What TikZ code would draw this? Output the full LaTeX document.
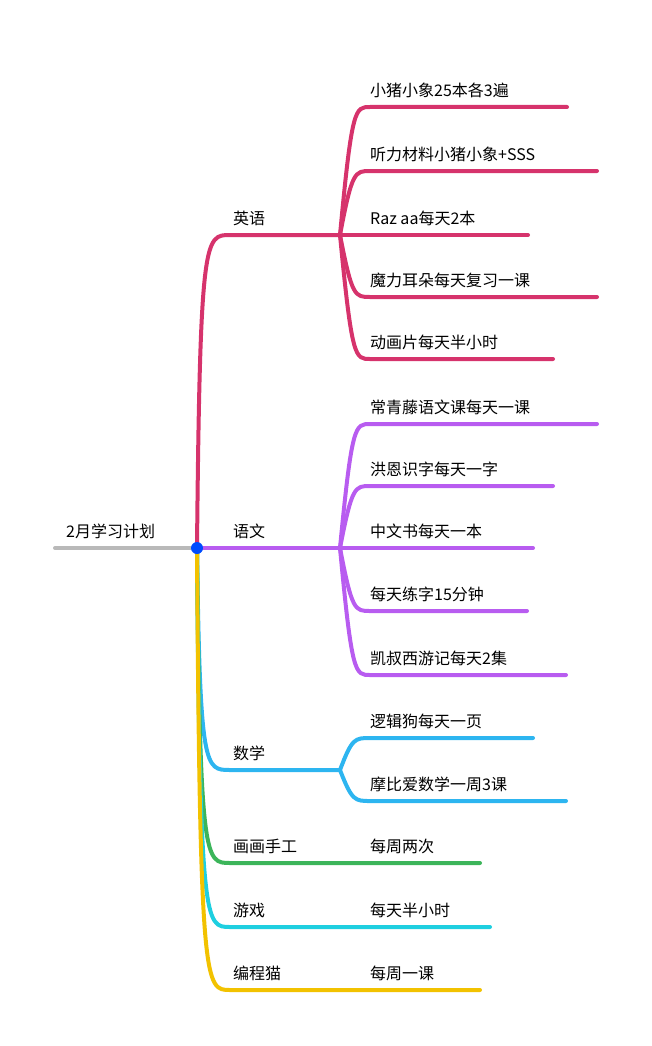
\documentclass[tikz,border=0pt]{standalone}
\usepackage{fontspec}
\setmainfont{Noto Sans CJK SC}
\definecolor{cEng}{RGB}{214,51,108}
\definecolor{cChi}{RGB}{184,92,240}
\definecolor{cMath}{RGB}{45,181,240}
\definecolor{cArt}{RGB}{60,181,90}
\definecolor{cGame}{RGB}{30,207,224}
\definecolor{cCode}{RGB}{242,194,0}
\begin{document}
\begin{tikzpicture}[x=1pt,y=-1pt,line cap=round]
  \tikzstyle{branch} = [line width=4pt]
  \tikzstyle{label}  = [anchor=south west,inner sep=0pt,yshift=9pt,text=black,font=\fontsize{16}{16}\selectfont]
  \useasboundingbox (0,0) rectangle (651,1046);
  % root
  \coordinate (rootL) at (55,548);
  \coordinate (root) at (197,548);
  \draw[branch,gray!55] (rootL) -- (root);
  \path (66,548) node[label] {2月学习计划};
  % main branches: name/y/end/color/text
  \foreach \nm/\y/\e/\c/\t in {eng/235/340/cEng/英语, chi/548/340/cChi/语文,
      math/770/340/cMath/数学, art/863/480/cArt/画画手工,
      game/927/490/cGame/游戏, code/990/480/cCode/编程猫}{
    \coordinate (\nm) at (230,\y);
    \coordinate (\nm E) at (\e,\y);
    \draw[branch,\c] (root) .. controls (200,\y) and (205,\y) .. (\nm) -- (\nm E);
    \path (233,\y) node[label] {\t};
  }
  \draw[branch,cChi] (root) -- (chiE);
  % leaves of eng
  \foreach \i/\y/\e/\t in {1/107/567/小猪小象25本各3遍, 2/171/597/听力材料小猪小象+SSS,
      3/235/528/Raz aa每天2本, 4/297/597/魔力耳朵每天复习一课, 5/359/553/动画片每天半小时}{
    \coordinate (eng\i) at (370,\y);
    \draw[branch,cEng] (engE) .. controls (352,\y) and (355,\y) .. (eng\i) -- (\e,\y);
    \path (eng\i) node[label] {\t};
  }
  % leaves of chi
  \foreach \i/\y/\e/\t in {1/424/597/常青藤语文课每天一课, 2/486/553/洪恩识字每天一字,
      3/548/533/中文书每天一本, 4/611/527/每天练字15分钟, 5/675/566/凯叔西游记每天2集}{
    \coordinate (chi\i) at (370,\y);
    \draw[branch,cChi] (chiE) .. controls (352,\y) and (355,\y) .. (chi\i) -- (\e,\y);
    \path (chi\i) node[label] {\t};
  }
  % leaves of math
  \foreach \i/\y/\e/\t in {1/738/533/逻辑狗每天一页, 2/801/566/摩比爱数学一周3课}{
    \coordinate (math\i) at (370,\y);
    \draw[branch,cMath] (mathE) .. controls (352,\y) and (355,\y) .. (math\i) -- (\e,\y);
    \path (math\i) node[label] {\t};
  }
  % single leaves
  \path (370,863) node[label] {每周两次};
  \path (370,927) node[label] {每天半小时};
  \path (370,990) node[label] {每周一课};
  \fill[blue!70!cyan] (root) circle (6pt);
\end{tikzpicture}
\end{document}
